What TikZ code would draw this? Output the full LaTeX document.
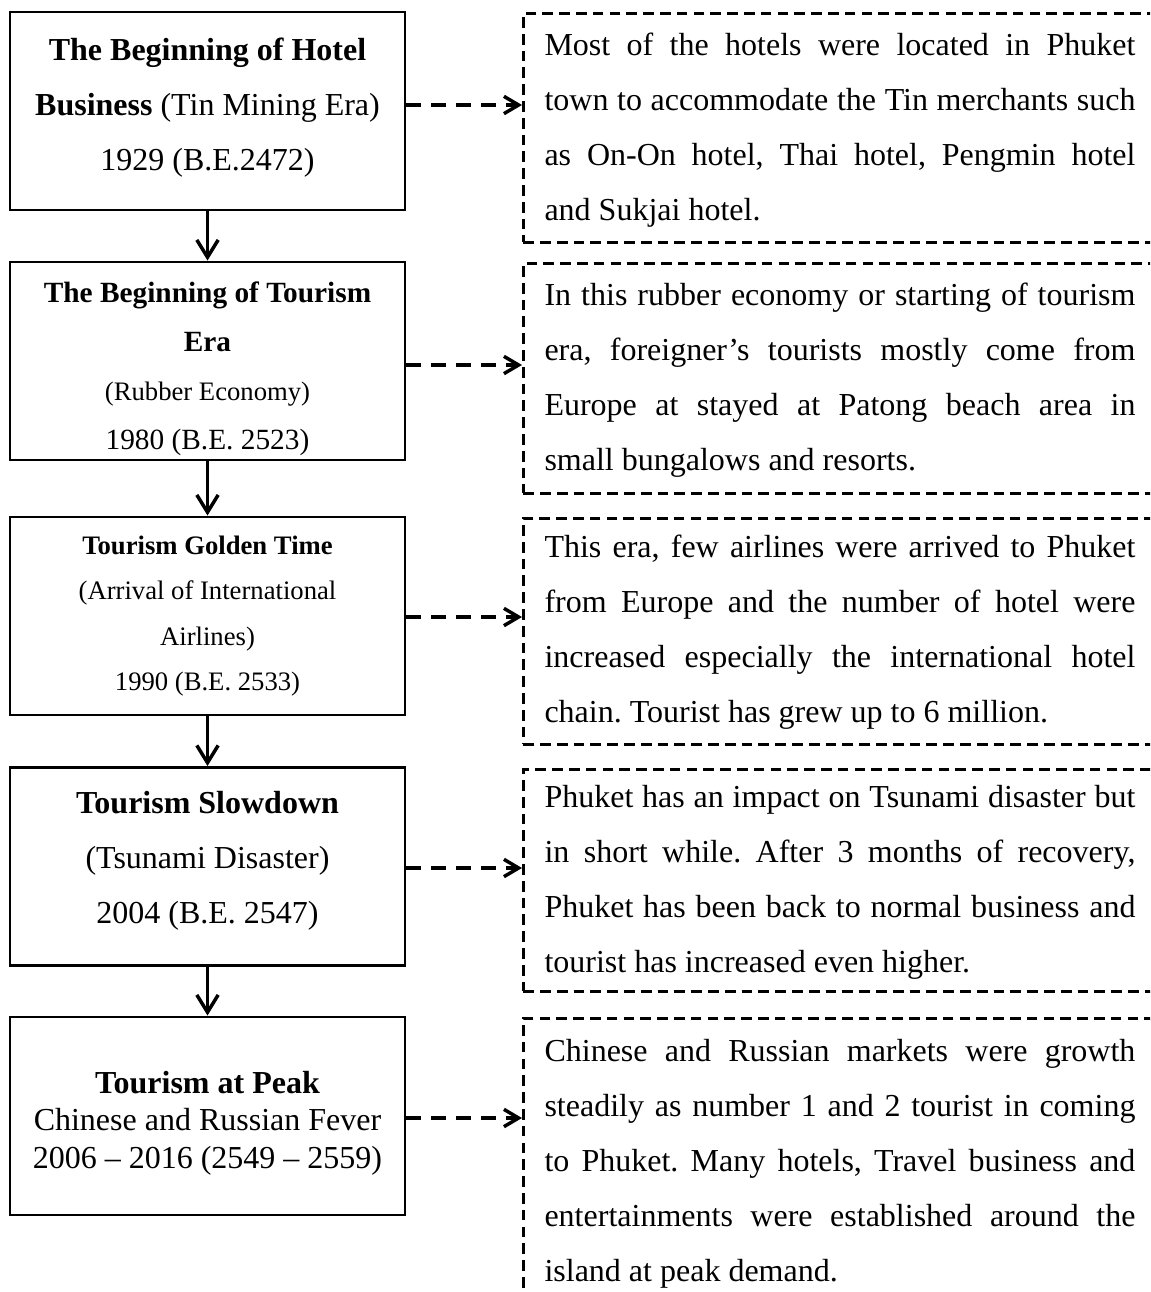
\documentclass[tikz,border=0pt]{standalone}
\usepackage{fontspec}
\setmainfont{Liberation Serif}
\usetikzlibrary{arrows.meta}
\frenchspacing
\newlength\dbw
\setlength\dbw{221.6pt}
\newcommand\jl[1]{\makebox[\dbw][s]{#1}}
\begin{document}
\begin{tikzpicture}[x=0.375pt,y=-0.375pt,
  lbox/.style={draw, line width=1.1pt, fill=white, minimum width=148.125pt, minimum height=74.25pt, inner sep=0pt},
  dbox/.style={draw, line width=0.95pt, dash pattern=on 4pt off 2.3pt, fill=white, anchor=north west, minimum width=243pt, inner sep=0pt},
  ltxt/.style={align=center, inner sep=0pt},
  dtxt/.style={anchor=base west, inner sep=0pt, align=left, font=\fontsize{12}{20.625}\selectfont},
  varr/.style={line width=1.3pt, -{Straight Barb[length=6.5pt, width=8pt, line width=1.3pt]}},
  harr/.style={line width=1.3pt, dash pattern=on 5.6pt off 3.75pt, -{Straight Barb[length=5.5pt, width=6.5pt, line width=1.3pt]}}
]
\useasboundingbox (0,0) rectangle (1150,1292);
\clip (0,0) rectangle (1150,1292);

% right dashed boxes
\node[dbox, minimum height=85.875pt] (d1) at (522,12) {};
\node[dbox, minimum height=86.25pt] (d2) at (522,262) {};
\node[dbox, minimum height=84.75pt] (d3) at (522,517) {};
\node[dbox, minimum height=83.25pt] (d4) at (522,768) {};
\node[dbox, minimum height=110pt] (d5) at (522,1017) {};

% left boxes
\node[lbox] (b1) at (207.5,111) {};
\node[lbox] (b2) at (207.5,361) {};
\node[lbox] (b3) at (207.5,616) {};
\node[lbox] (b4) at (207.5,866.5) {};
\node[lbox] (b5) at (207.5,1116) {};

% left texts
\node[ltxt, font=\fontsize{12}{20.6}\selectfont] (t1) at (207.5,107.5)
  {\textbf{The Beginning of Hotel}\\\textbf{Business} (Tin Mining Era)\\1929 (B.E.2472)};
\node[ltxt, font=\fontsize{11}{18.4}\selectfont] (t2) at (207.5,369)
  {\textbf{The Beginning of Tourism}\\\textbf{Era}\\{\fontsize{10}{18.4}\selectfont (Rubber Economy)}\\1980 (B.E. 2523)};
\node[ltxt, font=\fontsize{10}{17.1}\selectfont] (t3) at (207.5,616)
  {\textbf{Tourism Golden Time}\\(Arrival of International\\Airlines)\\1990 (B.E. 2533)};
\node[ltxt, font=\fontsize{12}{20.6}\selectfont] (t4) at (207.5,861)
  {\textbf{Tourism Slowdown}\\(Tsunami Disaster)\\2004 (B.E. 2547)};
\node[ltxt, font=\fontsize{12}{14}\selectfont] (t5) at (207.5,1123)
  {\textbf{Tourism at Peak}\\Chinese and Russian Fever\\2006 – 2016 (2549 – 2559)};

% right texts (anchored at the baseline of their last line)
\node[dtxt] (dt1) at (544,220.5)
  {\jl{Most of the hotels were located in Phuket}\\\jl{town to accommodate the Tin merchants such}\\\jl{as On-On hotel, Thai hotel, Pengmin hotel}\\and Sukjai hotel.};
\node[dtxt] (dt2) at (544,470.5)
  {\jl{In this rubber economy or starting of tourism}\\\jl{era, foreigner’s tourists mostly come from}\\\jl{Europe at stayed at Patong beach area in}\\small bungalows and resorts.};
\node[dtxt] (dt3) at (544,722)
  {\jl{This era, few airlines were arrived to Phuket}\\\jl{from Europe and the number of hotel were}\\\jl{increased especially the international hotel}\\chain. Tourist has grew up to 6 million.};
\node[dtxt] (dt4) at (544,972)
  {\jl{Phuket has an impact on Tsunami disaster but}\\\jl{in short while. After 3 months of recovery,}\\\jl{Phuket has been back to normal business and}\\tourist has increased even higher.};
\node[dtxt] (dt5) at (544,1281)
  {\jl{Chinese and Russian markets were growth}\\\jl{steadily as number 1 and 2 tourist in coming}\\\jl{to Phuket. Many hotels, Travel business and}\\\jl{entertainments were established around the}\\island at peak demand.};

% vertical arrows
\draw[varr] (b1.south) -- (b2.north);
\draw[varr] (b2.south) -- (b3.north);
\draw[varr] (b3.south) -- (b4.north);
\draw[varr] (b4.south) -- (b5.north);

% dashed arrows
\coordinate (a1) at (0,105);
\coordinate (a2) at (0,365);
\coordinate (a3) at (0,617);
\coordinate (a4) at (0,868);
\coordinate (a5) at (0,1118);
\draw[harr] (b1.east |- a1) -- (d1.west |- a1);
\draw[harr] (b2.east |- a2) -- (d2.west |- a2);
\draw[harr] (b3.east |- a3) -- (d3.west |- a3);
\draw[harr] (b4.east |- a4) -- (d4.west |- a4);
\draw[harr] (b5.east |- a5) -- (d5.west |- a5);
\end{tikzpicture}
\end{document}
